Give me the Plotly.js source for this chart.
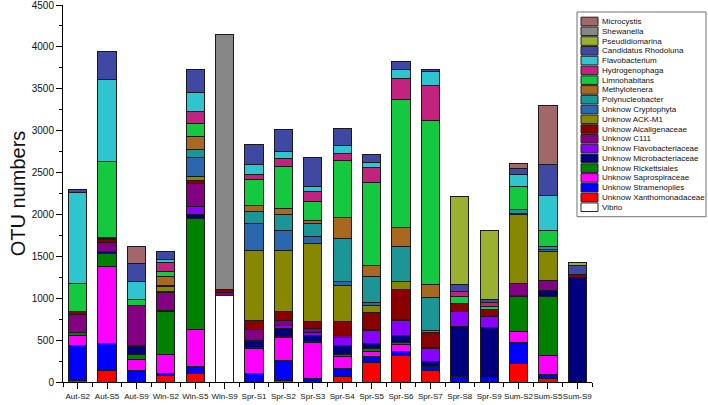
<!DOCTYPE html>
<html>
<head>
<meta charset="utf-8">
<script src="https://cdn.plot.ly/plotly-3.0.1.min.js"></script>
<style>html,body{margin:0;padding:0;background:#fff;}#chart{width:708px;height:405px;}</style>
</head>
<body>
<div id="chart"></div>
<script>
var categories = ["Aut-S2","Aut-S5","Aut-S9","Win-S2","Win-S5","Win-S9","Spr-S1","Spr-S2","Spr-S3","Spr-S4","Spr-S5","Spr-S6","Spr-S7","Spr-S8","Spr-S9","Sum-S2","Sum-S5","Sum-S9"];

// series values, bottom of stack first
var vibrio            = [0,0,0,0,0,1038,0,0,0,0,0,0,0,0,0,0,0,0];
var xanthomonadaceae  = [20,143,0,76,107,0,0,15,0,60,227,318,139,0,0,215,36,0];
var stramenopiles     = [415,318,139,24,76,0,107,247,36,103,80,48,36,68,52,251,52,0];
var saprospiraceae    = [115,919,127,223,441,0,294,266,441,143,60,76,16,0,0,139,227,0];
var rickettsiales     = [36,159,68,521,1324,0,10,10,8,24,36,32,0,0,0,418,708,0];
var microbacteriaceae = [8,15,91,12,52,0,75,100,76,103,52,87,52,589,593,8,72,1253];
var flavobacteriaceae = [0,0,8,0,99,0,12,32,24,95,159,175,159,179,131,0,0,0];
var c111              = [211,111,477,215,270,30,123,60,56,24,12,12,12,8,8,139,115,0];
var alcaligenaceae    = [32,36,8,8,32,40,115,115,80,171,207,362,179,99,80,0,0,28];
var ackM1             = [8,12,0,56,48,0,835,720,927,433,84,84,24,0,0,827,342,0];
var cryptophyta       = [0,10,0,12,231,0,318,239,91,40,28,4,0,0,0,20,24,0];
var polynucleobacter  = [0,0,0,8,99,0,151,195,151,517,310,418,394,0,0,40,40,0];
var methylotenera     = [0,0,0,103,151,0,64,68,32,251,131,227,151,0,0,0,0,0];
var limnohabitans     = [334,910,72,64,155,0,310,501,235,684,990,1535,1961,72,32,274,191,0];
var hydrogenophaga    = [0,0,0,100,143,0,64,99,111,80,187,247,414,64,48,0,0,0];
var flavobacterium    = [1080,980,207,40,227,0,115,87,68,95,60,107,175,0,0,143,418,0];
var rhodoluna         = [44,330,219,100,274,0,239,255,346,203,87,95,24,87,44,76,370,111];
var pseudidiomarina   = [0,0,0,0,0,0,0,0,0,0,0,0,0,1050,820,0,0,32];
var shewanella        = [0,0,0,0,0,3034,0,0,0,0,0,0,0,0,0,0,0,0];
var microcystis       = [0,0,207,0,0,0,0,0,0,0,0,0,0,0,0,64,704,0];

var seriesNames = ["Vibrio","Unknow Xanthomonadaceae","Unknow Stramenopiles","Unknow Saprospiraceae","Unknow Rickettsiales","Unknow Microbacteriaceae","Unknow Flavobacteriaceae","Unknow C111","Unknow Alcaligenaceae","Unknow ACK-M1","Unknow Cryptophyta","Polynucleobacter","Methylotenera","Limnohabitans","Hydrogenophaga","Flavobacterium","Candidatus Rhodoluna","Pseudidiomarina","Shewanella","Microcystis"];
var seriesValues = [vibrio,xanthomonadaceae,stramenopiles,saprospiraceae,rickettsiales,microbacteriaceae,flavobacteriaceae,c111,alcaligenaceae,ackM1,cryptophyta,polynucleobacter,methylotenera,limnohabitans,hydrogenophaga,flavobacterium,rhodoluna,pseudidiomarina,shewanella,microcystis];
var seriesColors = ["#FFFFFF","#FF0000","#0000FF","#FF00FF","#008100","#00007F","#8A00FF","#830083","#8A0000","#878700","#2B67AE","#1C9597","#A9681F","#14C840","#C2237F","#2EC5CF","#3F48A2","#99B030","#878787","#A06868"];

var FONT = 'Arial, "Liberation Sans", sans-serif';
var idx = categories.map(function(c, i){ return i; });

var traces = seriesNames.map(function(name, k){
  return {
    type: 'bar', name: name, x: idx, y: seriesValues[k],
    width: 0.62,
    marker: {color: seriesColors[k], line: {color: '#1a1a1a', width: 1}},
    hoverinfo: 'name+y'
  };
});

// plot area in pixels
var L = 63, R = 592, T = 5, B = 382.5, W = 708, H = 405;
function px(x){ return (x - L) / (R - L); }
function py(y){ return (B - y) / (B - T); }

var shapes = [{type:'rect', xref:'paper', yref:'paper', x0:px(577), x1:px(706), y0:py(12), y1:py(217), line:{color:'#707070', width:1}, fillcolor:'rgba(0,0,0,0)'}];
var annotations = [];
var n = seriesNames.length;
for (var r = 0; r < n; r++) {
  var k = n - 1 - r;
  var cy = 21.5 + r * 9.79;
  shapes.push({type:'rect', xref:'paper', yref:'paper', x0:px(581), x1:px(598), y0:py(cy+4.3), y1:py(cy-4.3), line:{color:'#222', width:1}, fillcolor: seriesColors[k]});
  annotations.push({xref:'paper', yref:'paper', x:px(600), y:py(cy), xanchor:'left', yanchor:'middle', text: seriesNames[k], showarrow:false, font:{family:FONT, size:8, color:'#111'}});
}

var layout = {
  width: W, height: H,
  margin: {l: L, r: W - R, t: T, b: H - B, pad: 0},
  paper_bgcolor: '#fff', plot_bgcolor: '#fff',
  barmode: 'stack',
  showlegend: false,
  font: {family: FONT, color: '#111'},
  xaxis: {
    range: [-0.5, 17.5], tickmode: 'array', tickvals: idx, ticktext: categories,
    tickangle: 0, automargin: false, ticklabeloverflow: 'allow',
    ticks: 'outside', ticklen: 6, tickwidth: 1, tickcolor: '#000',
    showline: true, linecolor: '#000', linewidth: 1, showgrid: false, zeroline: false,
    tickfont: {family: FONT, size: 8, color: '#111'},
    minor: {tickmode: 'linear', tick0: 0.5, dtick: 1, ticks: 'outside', ticklen: 4, tickcolor: '#000', showgrid: false}
  },
  yaxis: {
    range: [0, 4500], dtick: 500, tick0: 0, automargin: false, ticklabeloverflow: 'allow',
    ticks: 'outside', ticklen: 6, tickwidth: 1, tickcolor: '#000',
    showline: true, linecolor: '#000', linewidth: 1, showgrid: false, zeroline: false,
    tickfont: {family: FONT, size: 10, color: '#111'},
    minor: {dtick: 250, ticks: 'outside', ticklen: 3, tickcolor: '#000', showgrid: false},
    title: {text: 'OTU numbers', font: {family: FONT, size: 20, color: '#111'}, standoff: 0}
  },
  shapes: shapes,
  annotations: annotations
};

Plotly.newPlot('chart', traces, layout, {displayModeBar: false, staticPlot: true});
</script>
</body>
</html>
